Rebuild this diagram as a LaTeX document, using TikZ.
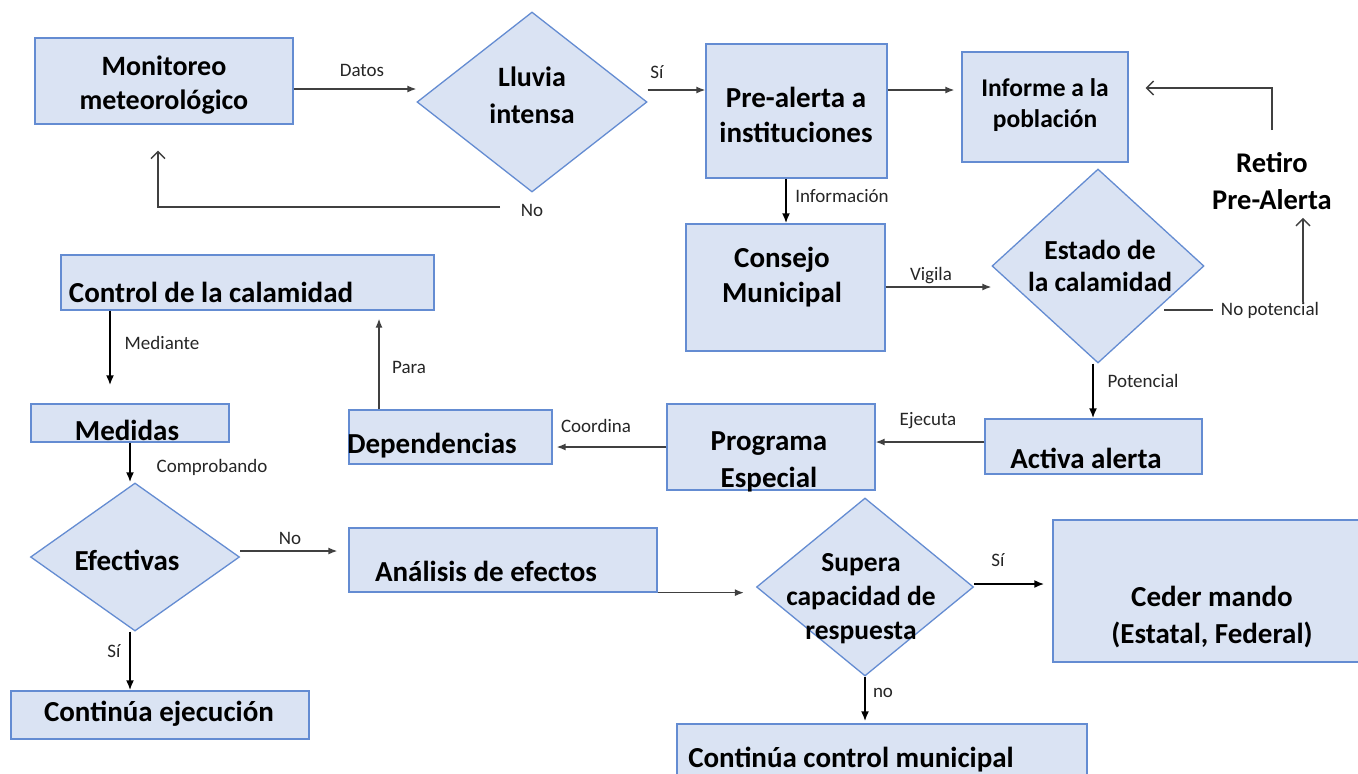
\documentclass[tikz,border=0pt]{standalone}
\usepackage{fontspec}
\setmainfont{Carlito}
\usetikzlibrary{shapes.geometric,arrows.meta}
\definecolor{boxfill}{RGB}{218,227,243}
\definecolor{boxline}{RGB}{100,140,210}
\definecolor{arrgray}{RGB}{64,64,64}
\definecolor{lblcol}{RGB}{38,38,38}
\tikzset{
 box/.style={draw=boxline, fill=boxfill, line width=1.3pt, inner sep=0pt},
 dia/.style={diamond, draw=boxline, fill=boxfill, line width=1.3pt, inner sep=0pt},
 bt/.style={font=\fontsize{29}{35}\selectfont\bfseries, align=center, inner sep=0pt, text=black},
 lbl/.style={font=\fontsize{19}{22}\selectfont, text=lblcol, inner sep=0pt},
 arr/.style={draw=arrgray, line width=1.4pt, -{Latex[length=9pt,width=7pt]}},
 barr/.style={draw=black, line width=2.2pt, -{Latex[length=10pt,width=8pt]}},
 oarr/.style={draw=arrgray, line width=1.4pt, -{Straight Barb[length=7pt,width=14pt]}},
 ln/.style={draw=arrgray, line width=1.4pt},
}
\begin{document}
\begin{tikzpicture}[x=1pt,y=-1pt]
\fill[white] (0,0) rectangle (1358,774);
\useasboundingbox (0,0) rectangle (1358,774);
% boxes
\node[box, minimum width=258pt, minimum height=86pt] (mon) at (164,81) {};
\node[dia, minimum width=230pt, minimum height=180pt] (ll) at (532,102) {};
\node[box, minimum width=181pt, minimum height=134pt] (pre) at (796.5,111) {};
\node[box, minimum width=166pt, minimum height=110pt] (inf) at (1045,107) {};
\node[box, minimum width=199pt, minimum height=127pt] (con) at (785.5,287.5) {};
\node[dia, minimum width=212pt, minimum height=194pt] (est) at (1098,266) {};
\node[box, minimum width=217pt, minimum height=55pt] (act) at (1093.5,446.5) {};
\node[box, minimum width=208pt, minimum height=86pt] (prog) at (771,447) {};
\node[box, minimum width=203pt, minimum height=54pt] (dep) at (450.5,437) {};
\node[box, minimum width=373pt, minimum height=55pt] (ctrl) at (247.5,282.5) {};
\node[box, minimum width=198pt, minimum height=38pt] (med) at (130,423) {};
\node[dia, minimum width=209pt, minimum height=148pt] (ef) at (135,557) {};
\node[box, minimum width=308pt, minimum height=64pt] (ana) at (503,560) {};
\node[dia, minimum width=217pt, minimum height=178pt] (sup) at (865,587) {};
\node[box, minimum width=315pt, minimum height=142pt] (ced) at (1210.5,591) {};
\node[box, minimum width=410pt, minimum height=66pt] (cont) at (882,757) {};
\node[box, minimum width=298pt, minimum height=48pt] (ce) at (160,715) {};
% texts
\node[bt, font=\fontsize{28}{34}\selectfont\bfseries] (monT) at (164,85) {Monitoreo\\meteorológico};
\node[bt, font=\fontsize{28}{37}\selectfont\bfseries] (llT) at (532,95) {Lluvia\\intensa};
\node[bt, font=\fontsize{29}{35}\selectfont\bfseries] (preT) at (796,115) {Pre-alerta a\\instituciones};
\node[bt, font=\fontsize{25.5}{31}\selectfont\bfseries] (infT) at (1045,105) {Informe a la\\población};
\node[bt, font=\fontsize{28.5}{37}\selectfont\bfseries] (retT) at (1272,181) {Retiro\\Pre-Alerta};
\node[bt] (conT) at (782,277) {Consejo\\Municipal};
\node[bt, font=\fontsize{27.5}{32}\selectfont\bfseries] (estT) at (1100,266) {Estado de\\la calamidad};
\node[bt] (actT) at (1086,458) {Activa alerta};
\node[bt, font=\fontsize{29}{37}\selectfont\bfseries] (progT) at (769,462) {Programa\\Especial};
\node[bt] (depT) at (432,446) {Dependencias};
\node[bt] (ctrlT) at (211,292) {Control de la calamidad};
\node[bt] (medT) at (127,430) {Medidas};
\node[bt] (efT) at (127,560) {Efectivas};
\node[bt] (anaT) at (486,571) {Análisis de efectos};
\node[bt, font=\fontsize{27.5}{34}\selectfont\bfseries] (supT) at (861,599) {Supera\\capacidad de\\respuesta};
\node[bt, font=\fontsize{29}{37}\selectfont\bfseries] (cedT) at (1212,617) {Ceder mando\\(Estatal, Federal)};
\node[bt] (contT) at (851,760) {Continúa control municipal};
\node[bt] (ceT) at (159,714) {Continúa ejecución};
% labels
\node[lbl] (lDatos) at (362,70) {Datos};
\node[lbl] (lSi1) at (657,72) {Sí};
\node[lbl] (lInf) at (842,196) {Información};
\node[lbl] (lVig) at (931,276) {Vigila};
\node[lbl] (np) at (1270,310) {No potencial};
\node[lbl] (lPot) at (1143,381) {Potencial};
\node[lbl] (lEje) at (928,421) {Ejecuta};
\node[lbl] (lCoo) at (596,426) {Coordina};
\node[lbl] (lPara) at (409,367) {Para};
\node[lbl] (lMed) at (162,343) {Mediante};
\node[lbl] (lComp) at (212,467) {Comprobando};
\node[lbl] (lNo2) at (290,538) {No};
\node[lbl] (lSi2) at (998,560) {Sí};
\node[lbl] (lno3) at (883,693) {no};
\node[lbl] (lSi3) at (114,651) {Sí};
\node[lbl] (noL) at (532,210) {No};
\coordinate (noStart) at (500,207);
% connectors
\draw[arr] (mon.east |- 0,89) -- (ll.west |- 0,89);
\draw[arr] (ll.east |- 0,90) -- (pre.west |- 0,90);
\draw[arr, shorten >=7pt] (pre.east |- 0,90) -- (inf.west |- 0,90);
\draw[oarr, shorten >=17pt] (retT.north |- 0,130) |- (inf.east |- 0,88);
\draw[ln, shorten <=8pt] (np.west) -- (np.west -| 1164,0);
\draw[oarr, shorten >=8pt] (np.north -| 1303,0) -- (retT.south -| 1303,0);
\draw[barr] (pre.south -| 786,0) -- (con.north -| 786,0);
\draw[arr] (con.east |- 0,287) -- (est.west |- 0,287);
\draw[barr] (est.south -| 1093,0) -- (act.north -| 1093,0);
\draw[arr] (act.west |- 0,442) -- (prog.east |- 0,442);
\draw[arr, shorten >=4pt] (prog.west |- 0,447) -- (dep.east |- 0,447);
\draw[arr, shorten >=8pt] (dep.north -| 379,0) -- (ctrl.south -| 379,0);
\draw[barr, shorten >=18pt] (ctrl.south -| 110,0) -- (med.north -| 110,0);
\draw[barr] (med.south -| 130,0) -- (ef.north -| 130,0);
\draw[arr, shorten >=11pt] (ef.east |- 0,551) -- (ana.west |- 0,551);
\draw[arr, shorten >=12pt] (ana.south east) -- (sup.west |- ana.south east);
\draw[barr, shorten >=8pt] (sup.east |- 0,584) -- (ced.west |- 0,584);
\draw[barr, shorten >=2pt] (sup.south) -- (cont.north -| sup.south);
\draw[barr] (ef.south -| 130,0) -- (ce.north -| 130,0);
\draw[oarr, shorten >=26pt] (noStart) -| (mon.south -| 158,0);
\end{tikzpicture}
\end{document}
